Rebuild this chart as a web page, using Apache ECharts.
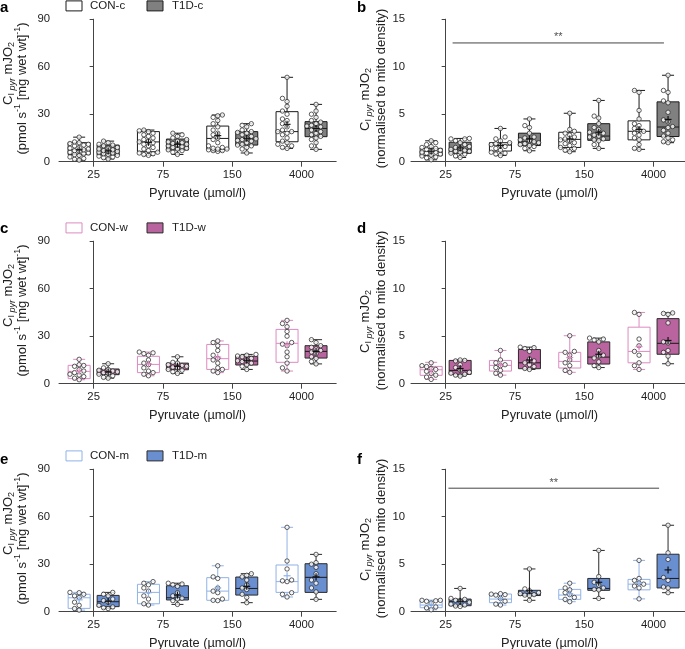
<!DOCTYPE html>
<html><head><meta charset="utf-8">
<script src="https://cdn.jsdelivr.net/npm/echarts@6/dist/echarts.min.js"></script>
<style>html,body{margin:0;padding:0;background:#fff}#c{width:685px;height:649px}</style>
</head><body><div id="c"></div>
<script>
// ---------------- DATA ----------------
const categories = ['25', '75', '150', '4000'];
const yTicksAbs = [0, 30, 60, 90];
const yTicksNorm = [0, 5, 10, 15];

// Panel a (absolute, combined)
const aConPoints = [
  [1, 1.5, 2, 3, 4, 4.5, 5, 5.5, 6, 6.5, 7, 7.5, 8, 8.5, 9, 10, 10.5, 11, 11.5, 12, 12.5, 15.5],
  [4, 4.5, 5, 5.5, 6, 7, 8, 9, 10, 11, 12, 12.5, 13, 14, 15, 16, 17, 18, 19, 19.5, 20],
  [6.5, 7, 7, 7.5, 8, 8, 8.5, 9, 10, 12, 14, 15, 17, 18, 20, 22, 24, 26, 28, 29, 29.5],
  [8.4, 9, 10, 11, 12, 13, 15, 17, 18, 19, 19, 20, 22, 24, 26, 27, 30, 32, 35, 38, 40, 53.3]];
const aConBox = [[1, 4.5, 7.5, 12, 15.5], [4, 6.3, 12.5, 19, 20], [6.5, 7.8, 14.7, 22.5, 29.5], [8.4, 12.6, 19, 31.6, 53.3]];
const aConMean = [7.5, 12.2, 16.5, 23.6];
const aT1dPoints = [
  [1.7, 2.5, 3, 3.5, 4, 4.5, 5, 5.5, 6, 6.5, 6.5, 7, 7.5, 8, 8.5, 9, 10, 10.5, 11, 12, 13],
  [4.6, 6, 7, 7.5, 8, 8.5, 9, 9.5, 10, 10.5, 11, 11.5, 12, 12.5, 13, 14, 15, 16, 17, 18],
  [5.5, 8, 9, 10, 10.5, 11, 12, 13, 13.5, 14, 14.5, 15, 16, 17, 18, 18.5, 19, 20, 22, 23, 24],
  [7.8, 10, 12, 14, 15, 16, 17, 18, 19, 20, 21, 22, 22.5, 23, 24, 25, 26, 28, 30, 32, 36.2]];
const aT1dBox = [[1.7, 4.2, 6.7, 10.5, 13], [4.6, 7.4, 11, 14.3, 18], [5.5, 10.5, 14.3, 19, 24], [7.8, 15.8, 21, 25.3, 36.2]];
const aT1dMean = [6.8, 11, 14.8, 21];

// Panel b (normalised, combined)
const bConPoints = [
  [0.2, 0.4, 0.5, 0.6, 0.7, 0.8, 0.9, 1.0, 1.0, 1.1, 1.2, 1.3, 1.4, 1.5, 1.6, 1.8, 2.0, 2.2],
  [0.65, 0.8, 0.9, 1.0, 1.2, 1.4, 1.6, 1.7, 1.8, 1.9, 2.0, 2.2, 2.4, 2.6, 3.5],
  [1.05, 1.2, 1.4, 1.5, 1.7, 1.9, 2.0, 2.2, 2.3, 2.4, 2.6, 2.8, 3.0, 3.2, 3.4, 5.1],
  [1.3, 1.4, 1.8, 2.3, 2.5, 2.8, 3.0, 3.2, 3.3, 3.5, 3.8, 4.0, 4.5, 5.4, 7.3, 7.5]];
const bConBox = [[0.2, 0.63, 1.05, 1.4, 2.2], [0.65, 1.12, 1.75, 2.0, 3.5], [1.05, 1.5, 2.35, 3.1, 5.1], [1.3, 2.3, 3.2, 4.3, 7.5]];
const bConMean = [1.1, 1.7, 2.4, 3.4];
const bT1dPoints = [
  [0.45, 0.6, 0.8, 0.9, 1.0, 1.1, 1.1, 1.2, 1.3, 1.4, 1.5, 1.6, 1.8, 2.0, 2.2, 2.4, 2.4, 2.45],
  [1.15, 1.4, 1.6, 1.7, 1.8, 1.9, 2.0, 2.1, 2.2, 2.3, 2.5, 2.6, 3.0, 3.6, 3.8, 4.5],
  [1.4, 1.8, 2.2, 2.3, 2.4, 2.6, 2.7, 2.8, 3.0, 3.1, 3.4, 3.6, 4.0, 4.6, 4.8, 6.45],
  [2.0, 2.1, 2.3, 2.5, 2.7, 3.0, 3.3, 3.6, 3.7, 4.2, 4.4, 5.2, 6.2, 6.4, 7.3, 7.5, 9.1]];
const bT1dBox = [[0.45, 0.88, 1.3, 2.05, 2.45], [1.15, 1.7, 2.1, 3.0, 4.5], [1.4, 2.25, 2.7, 4.0, 6.45], [2.0, 2.65, 3.65, 6.3, 9.1]];
const bT1dMean = [1.45, 2.4, 3.1, 4.45];
const bSigX = [0.1, 3.15];
const bSigY = 12.5;

// Panel c (absolute, women)
const cConPoints = [
  [2.5, 3.5, 4.5, 5.5, 6, 7, 8, 9, 11, 11.5, 12, 15.4],
  [5, 6, 7, 8, 10, 12, 13, 15, 18, 19, 19.5, 20],
  [7, 8, 9, 10, 13, 15, 16, 18, 21, 24, 26, 27],
  [8, 10, 13, 17, 20, 24, 25, 26, 30, 33, 36, 38, 40]];
const cConBox = [[2.5, 3.2, 7.8, 11.6, 15.4], [5, 7, 12.2, 17.3, 20], [7, 9, 15.8, 24.8, 27], [8, 13.5, 25.5, 34.3, 40]];
const cConMean = [7.8, 12.5, 16.8, 24.6];
const cT1dPoints = [
  [3.5, 4, 5, 6, 6.5, 7, 7.5, 8, 8.5, 9, 10, 12.6],
  [6.5, 7.5, 8.5, 9, 10, 10.5, 11, 11.5, 12, 13, 13.5, 17],
  [9, 11, 12, 13, 14, 14.5, 15, 16, 17, 17.5, 18, 18.5],
  [12.5, 14, 16, 17, 19, 20, 21, 22, 23, 24, 26, 27.8]];
const cT1dBox = [[3.5, 5.7, 7.4, 9.3, 12.6], [6.5, 8.8, 11, 13, 17], [9, 11.8, 14.3, 17.3, 18.5], [12.5, 16.2, 20.4, 24, 27.8]];
const cT1dMean = [7.4, 11, 14.8, 20.4];

// Panel d (normalised, women)
const dConPoints = [
  [0.45, 0.7, 0.9, 1.1, 1.3, 1.5, 1.6, 1.8, 1.9, 2.2],
  [0.9, 1.1, 1.4, 1.7, 1.9, 2.0, 2.2, 2.5, 3.5],
  [1.2, 1.4, 1.9, 2.2, 2.5, 3.0, 3.3, 3.4, 5.05],
  [1.5, 1.9, 2.2, 3.0, 3.4, 4.0, 4.7, 7.3, 7.5]];
const dConBox = [[0.45, 0.88, 1.47, 1.82, 2.25], [0.9, 1.33, 1.93, 2.45, 3.5], [1.2, 1.65, 2.35, 3.3, 5.05], [1.5, 2.2, 3.4, 5.95, 7.5]];
const dConMean = [1.4, 1.95, 2.75, 3.9];
const dT1dPoints = [
  [0.8, 0.9, 1.0, 1.1, 1.2, 1.4, 1.7, 2.0, 2.4, 2.45, 2.5],
  [1.5, 1.6, 1.8, 2.0, 2.2, 2.4, 2.6, 3.4, 3.7, 3.8, 3.85],
  [1.7, 1.9, 2.3, 2.7, 2.9, 3.0, 3.5, 4.4, 4.6, 4.7, 4.8],
  [2.1, 2.9, 3.3, 3.5, 4.3, 4.4, 6.4, 7.3, 7.4, 7.45]];
const dT1dBox = [[0.8, 0.98, 1.4, 2.45, 2.5], [1.5, 1.58, 2.2, 3.6, 3.85], [1.7, 2.07, 2.8, 4.4, 4.8], [2.1, 3.1, 4.25, 6.85, 7.45]];
const dT1dMean = [1.6, 2.5, 3.1, 4.55];

// Panel e (absolute, men)
const eConPoints = [
  [1, 2, 4, 6, 9, 10, 11, 12, 12.2],
  [4.2, 5, 8, 10, 13, 15, 17, 18, 19],
  [7, 7.2, 8, 12, 13, 15, 21, 22, 29],
  [9.3, 11, 12, 19, 19.5, 20, 27, 32, 53.3]];
const eConBox = [[1, 2.1, 8.8, 11, 12.2], [4.2, 5, 12.2, 17.3, 19], [7, 7.2, 13, 21.5, 29], [9.3, 12.2, 19, 29.5, 53.3]];
const eConMean = [7.5, 12, 15, 22.7];
const eT1dPoints = [
  [2, 2.5, 3, 4, 6, 7, 8, 10, 11, 12.2],
  [4.6, 7, 8, 8.5, 10, 12, 16, 17, 17.5, 18],
  [5.7, 9, 11, 14, 15, 17, 20, 22, 23, 24],
  [7.8, 12.5, 15, 18, 20, 24, 28, 30, 31, 36.2]];
const eT1dBox = [[2, 3.2, 6.3, 10.3, 12.2], [4.6, 7.4, 8.8, 16.4, 18], [5.7, 10.5, 14.7, 21.9, 24], [7.8, 12.2, 21.7, 30.3, 36.2]];
const eT1dMean = [6.6, 10.5, 16, 22];

// Panel f (normalised, men)
const fConPoints = [
  [0.2, 0.4, 0.5, 0.9, 1.1, 1.15, 1.2, 1.2],
  [0.7, 0.8, 1.1, 1.4, 1.75, 1.8, 1.85, 1.9],
  [1.05, 1.3, 1.5, 1.8, 2.0, 2.3, 2.5, 3.0],
  [1.35, 2.5, 2.7, 2.9, 3.0, 3.3, 3.5, 5.4]];
const fConBox = [[0.2, 0.42, 0.7, 1.2, 1.2], [0.7, 0.95, 1.33, 1.86, 1.9], [1.05, 1.3, 1.75, 2.35, 3.0], [1.35, 2.3, 2.9, 3.4, 5.4]];
const fConMean = [0.75, 1.4, 1.9, 3.0];
const fT1dPoints = [
  [0.55, 0.6, 0.7, 0.8, 1.0, 1.1, 1.2, 1.3, 1.4, 2.45],
  [1.2, 1.7, 1.75, 1.8, 1.9, 2.0, 2.2, 2.4, 4.5],
  [1.4, 2.3, 2.35, 2.5, 2.8, 3.1, 3.7, 6.45],
  [2.0, 2.5, 2.6, 3.3, 3.6, 5.5, 6.2, 9.1]];
const fT1dBox = [[0.55, 0.63, 1.05, 1.33, 2.45], [1.2, 1.7, 1.9, 2.25, 4.5], [1.4, 2.25, 2.45, 3.5, 6.45], [2.0, 2.5, 3.5, 6.05, 9.1]];
const fT1dMean = [1.1, 2.2, 3.1, 4.4];
const fSigX = [0.04, 3.08];
const fSigY = 13.0;

const legendNames = [['CON-c', 'T1D-c'], ['CON-w', 'T1D-w'], ['CON-m', 'T1D-m']];
const panelLetters = ['a', 'b', 'c', 'd', 'e', 'f'];
const xName = 'Pyruvate (µmol/l)';

// ---------------- LAYOUT / STYLE ----------------
const FONT = 'Liberation Sans';
const BAND = 69.3, PLOT_H = 142.5;
const GRID_LEFT = [59, 411];
const GRID_TOP = [19.2, 241.2, 469.2];
const SIDE = 14.5 / BAND;
const themes = [
  {conStroke: '#1a1a1a', conMean: '#1a1a1a', t1dFill: '#808080', t1dStroke: '#1a1a1a'},
  {conStroke: '#dc8ac0', conMean: '#dc8ac0', t1dFill: '#b9649f', t1dStroke: '#2a2a2a'},
  {conStroke: '#90b2e6', conMean: '#90b2e6', t1dFill: '#6a8fd0', t1dStroke: '#2a2a2a'}];

const panels = [
  {con: aConPoints, t1d: aT1dPoints, conBox: aConBox, t1dBox: aT1dBox, conMean: aConMean, t1dMean: aT1dMean, ticks: yTicksAbs},
  {con: bConPoints, t1d: bT1dPoints, conBox: bConBox, t1dBox: bT1dBox, conMean: bConMean, t1dMean: bT1dMean, ticks: yTicksNorm, sig: [bSigX, bSigY]},
  {con: cConPoints, t1d: cT1dPoints, conBox: cConBox, t1dBox: cT1dBox, conMean: cConMean, t1dMean: cT1dMean, ticks: yTicksAbs},
  {con: dConPoints, t1d: dT1dPoints, conBox: dConBox, t1dBox: dT1dBox, conMean: dConMean, t1dMean: dT1dMean, ticks: yTicksNorm},
  {con: eConPoints, t1d: eT1dPoints, conBox: eConBox, t1dBox: eT1dBox, conMean: eConMean, t1dMean: eT1dMean, ticks: yTicksAbs},
  {con: fConPoints, t1d: fT1dPoints, conBox: fConBox, t1dBox: fT1dBox, conMean: fConMean, t1dMean: fT1dMean, ticks: yTicksNorm, sig: [fSigX, fSigY]}];

// bounded beeswarm: points stay within the box width
const SWARM_OFFS = [0, -4.6, 4.6, -9.2, 9.2];
function swarm(vals, pxPerUnit) {
  const placed = [];
  const d = 4.6;
  return vals.map(v => {
    const py = v * pxPerUnit;
    let best = 0, bestDist = -1;
    for (const dx of SWARM_OFFS) {
      let mind = Infinity;
      placed.forEach(p => { mind = Math.min(mind, Math.hypot(p[0] - dx, p[1] - py)); });
      if (mind >= d) { best = dx; bestDist = mind; break; }
      if (mind > bestDist) { bestDist = mind; best = dx; }
    }
    placed.push([best, py]);
    return best / BAND;
  });
}
function pointsData(ptsByCat, side, ymax) {
  const out = [];
  ptsByCat.forEach((vals, i) => {
    const sorted = vals.slice().sort((a, b) => a - b);
    const off = swarm(sorted, PLOT_H / ymax);
    sorted.forEach((v, j) => out.push([i + side * SIDE + off[j], v]));
  });
  return out;
}
function boxData(boxes, side) {
  return boxes.map((b, i) => [i + side * SIDE].concat(b));
}
function meanData(means, side) {
  return means.map((m, i) => [i + side * SIDE, m]);
}
function boxRender(stroke, fill, medColor) {
  return function (params, api) {
    const x = api.value(0);
    const p = [1, 2, 3, 4, 5].map(k => api.coord([x, api.value(k)]));
    const cx = p[0][0], hw = 11, cw = 6;
    const ls = {stroke: stroke, lineWidth: 1, fill: null};
    return {type: 'group', children: [
      {type: 'line', shape: {x1: cx, y1: p[0][1], x2: cx, y2: p[1][1]}, style: ls},
      {type: 'line', shape: {x1: cx, y1: p[3][1], x2: cx, y2: p[4][1]}, style: ls},
      {type: 'line', shape: {x1: cx - cw, y1: p[0][1], x2: cx + cw, y2: p[0][1]}, style: ls},
      {type: 'line', shape: {x1: cx - cw, y1: p[4][1], x2: cx + cw, y2: p[4][1]}, style: ls},
      {type: 'rect', shape: {x: cx - hw, y: p[3][1], width: 2 * hw, height: p[1][1] - p[3][1]}, style: {fill: fill, stroke: stroke, lineWidth: 1}},
      {type: 'line', shape: {x1: cx - hw, y1: p[2][1], x2: cx + hw, y2: p[2][1]}, style: {stroke: medColor, lineWidth: 1}}
    ]};
  };
}
function meanRender(color) {
  return function (params, api) {
    const c = api.coord([api.value(0), api.value(1)]);
    const m = 3.5;
    const s = {stroke: color, lineWidth: 1.2, fill: null};
    return {type: 'group', children: [
      {type: 'line', shape: {x1: c[0] - m, y1: c[1], x2: c[0] + m, y2: c[1]}, style: s},
      {type: 'line', shape: {x1: c[0], y1: c[1] - m, x2: c[0], y2: c[1] + m}, style: s}
    ]};
  };
}

const grid = [], xAxis = [], yAxis = [], series = [], graphic = [];
const axisColor = '#444', textColor = '#222';
panels.forEach((pn, g) => {
  const row = Math.floor(g / 2), col = g % 2;
  const th = themes[row];
  const ymax = pn.ticks[pn.ticks.length - 1];
  const top = GRID_TOP[row], left = GRID_LEFT[col];
  grid.push({left: left, top: top, width: BAND * 4, height: PLOT_H, outerBoundsMode: 'none', containLabel: false});
  xAxis.push({
    gridIndex: g, type: 'category', data: categories, boundaryGap: true,
    axisLine: {show: true, lineStyle: {color: axisColor, width: 1}},
    axisTick: {show: true, alignWithLabel: true, length: 5, lineStyle: {color: axisColor}},
    axisLabel: {color: textColor, fontSize: 11.3, fontFamily: FONT, margin: 8},
    splitLine: {show: false},
    name: xName, nameLocation: 'middle', nameGap: 25,
    nameTextStyle: {color: textColor, fontSize: 12.8, fontFamily: FONT}
  });
  xAxis.push({gridIndex: g, type: 'value', min: -0.5, max: 3.5, show: false});
  yAxis.push({
    gridIndex: g, type: 'value', min: 0, max: ymax, interval: pn.ticks[1] - pn.ticks[0],
    axisLine: {show: true, lineStyle: {color: axisColor, width: 1}},
    axisTick: {show: true, length: 4, lineStyle: {color: axisColor}},
    axisLabel: {color: textColor, fontSize: 11.3, fontFamily: FONT, margin: col ? 6 : 9},
    splitLine: {show: false}
  });
  const xi = 2 * g + 1;
  const common = {xAxisIndex: xi, yAxisIndex: g, silent: true, animation: false};
  series.push(Object.assign({type: 'custom', z: 2, renderItem: boxRender(th.conStroke, '#ffffff', th.conStroke),
    encode: {x: 0, y: [1, 2, 3, 4, 5]}, data: boxData(pn.conBox, -1)}, common));
  series.push(Object.assign({type: 'custom', z: 2, renderItem: boxRender(th.t1dStroke, th.t1dFill, '#1a1a1a'),
    encode: {x: 0, y: [1, 2, 3, 4, 5]}, data: boxData(pn.t1dBox, 1)}, common));
  const ptStyle = {color: '#ffffff', borderColor: '#1e1e1e', borderWidth: 0.9};
  series.push(Object.assign({type: 'scatter', z: 3, symbol: 'circle', symbolSize: 4.4, itemStyle: ptStyle, data: pointsData(pn.con, -1, ymax)}, common));
  series.push(Object.assign({type: 'scatter', z: 3, symbol: 'circle', symbolSize: 4.4, itemStyle: ptStyle, data: pointsData(pn.t1d, 1, ymax)}, common));
  series.push(Object.assign({type: 'custom', z: 4, renderItem: meanRender(th.conMean), encode: {x: 0, y: 1}, data: meanData(pn.conMean, -1)}, common));
  series.push(Object.assign({type: 'custom', z: 4, renderItem: meanRender('#111'), encode: {x: 0, y: 1}, data: meanData(pn.t1dMean, 1)}, common));
  if (pn.sig) {
    const [sx, sy] = pn.sig;
    series.push(Object.assign({type: 'line', z: 2, symbol: 'none', lineStyle: {color: axisColor, width: 1},
      data: [[sx[0], sy], [sx[1], sy]]}, common));
    series.push(Object.assign({type: 'scatter', z: 2, symbolSize: 0, data: [[(sx[0] + sx[1]) / 2, sy]],
      label: {show: true, position: 'top', distance: 0, formatter: '**', color: textColor, fontSize: 11, fontFamily: FONT}}, common));
  }
  // panel letter
  graphic.push({type: 'text', x: col ? 357 : 0, y: [0, 221.5, 452.5][row],
    style: {text: panelLetters[g], fill: '#000', fontSize: 15, fontWeight: 'bold', fontFamily: FONT, textAlign: 'left', textVerticalAlign: 'top'}});
  // y-axis name
  const cy = top + PLOT_H / 2;
  const richBase = {fontFamily: FONT, fill: textColor, color: textColor, lineHeight: 15};
  const rich = {
    m: Object.assign({fontSize: 13, verticalAlign: 'top'}, richBase),
    mb: Object.assign({fontSize: 13, verticalAlign: 'bottom'}, richBase),
    s: Object.assign({fontSize: 9, verticalAlign: 'bottom'}, richBase),
    si: Object.assign({fontSize: 9, fontStyle: 'italic', verticalAlign: 'bottom'}, richBase),
    u: Object.assign({fontSize: 9, verticalAlign: 'top'}, richBase),
    p: Object.assign({fontSize: 13, verticalAlign: 'middle'}, richBase)
  };
  const line1 = '{m|C}{s|I }{si|pyr}{m| mJO}{s|2}';
  const line2 = col ? '{p|(normalised to mito density)}' : '{mb|(pmol s}{u|-1}{mb| [mg wet wt]}{u|-1}{mb|)}';
  graphic.push({type: 'text', x: col ? 366 : 9, y: col ? cy + 9 : cy - 17, rotation: Math.PI / 2,
    style: {text: line1, rich: rich, textAlign: 'center', textVerticalAlign: 'middle', fontFamily: FONT, fontSize: 13, fill: textColor}});
  graphic.push({type: 'text', x: col ? 381 : 21, y: cy - 2, rotation: Math.PI / 2,
    style: {text: line2, rich: rich, textAlign: 'center', textVerticalAlign: 'middle', fontFamily: FONT, fontSize: 13, fill: textColor}});
  // legend (left panels)
  if (col === 0) {
    const ly = top - 13.3;
    graphic.push({type: 'rect', shape: {x: 66, y: ly - 5, width: 16, height: 10}, style: {fill: '#fff', stroke: th.conStroke, lineWidth: 1}});
    graphic.push({type: 'text', x: 90, y: ly, style: {text: legendNames[row][0], fill: textColor, fontSize: 11.5, fontFamily: FONT, textAlign: 'left', textVerticalAlign: 'middle'}});
    graphic.push({type: 'rect', shape: {x: 147, y: ly - 5, width: 16, height: 10}, style: {fill: th.t1dFill, stroke: th.t1dStroke, lineWidth: 1}});
    graphic.push({type: 'text', x: 172, y: ly, style: {text: legendNames[row][1], fill: textColor, fontSize: 11.5, fontFamily: FONT, textAlign: 'left', textVerticalAlign: 'middle'}});
  }
});

const chart = echarts.init(document.getElementById('c'), null, {renderer: 'canvas'});
chart.setOption({animation: false, backgroundColor: '#fff', grid, xAxis, yAxis, series, graphic});
</script></body></html>
